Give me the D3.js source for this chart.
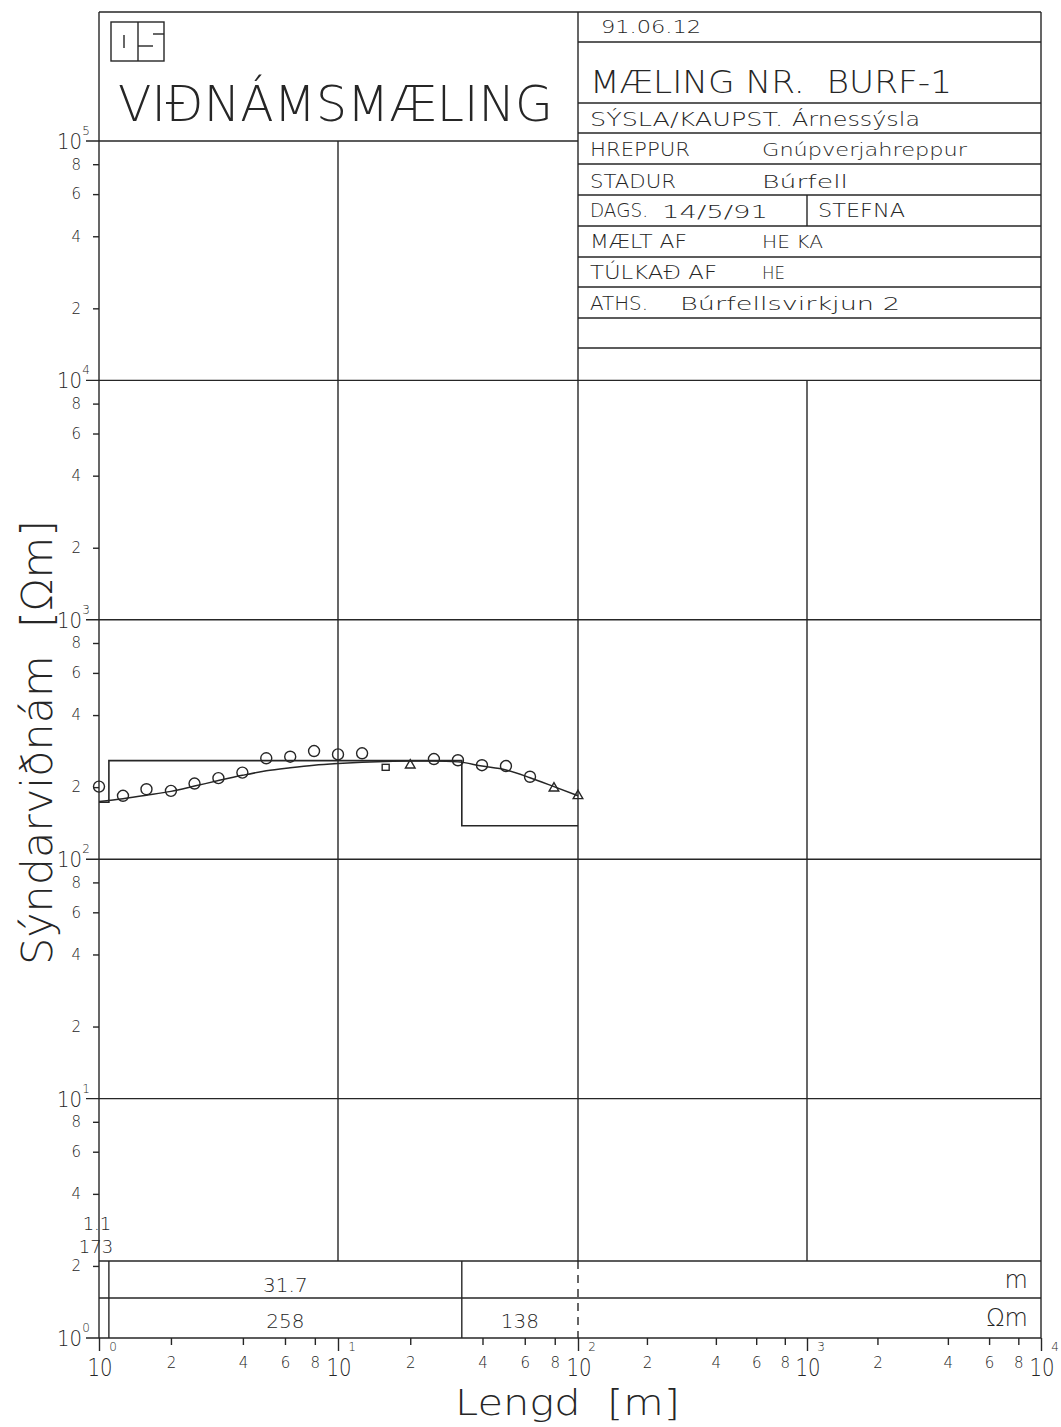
<!DOCTYPE html>
<html>
<head>
<meta charset="utf-8">
<script src="https://cdn.jsdelivr.net/npm/d3@7"></script>
<style>
  body { margin: 0; background: #fff; }
  svg text { font-family: 'DejaVu Sans', sans-serif; font-weight: 200; fill: #262626; white-space: pre; }
</style>
</head>
<body>
<div id="graf"></div>
<script>
// Mæligögn: AB/2 [m] og sýndarviðnám [Ωm]
const lengd  = [1, 1.26, 1.58, 2, 2.51, 3.16, 3.98, 5.01, 6.31, 7.94, 10, 12.6, 15.8, 20, 25.1, 31.6, 39.8, 50.1, 63.1, 79.4, 100]
const vidnam = [201, 184, 196, 193, 207, 218, 230, 264, 268, 283, 274, 277, 242, 247, 262, 259, 247, 245, 221, 198, 184]
const takn   = ['o', 'o', 'o', 'o', 'o', 'o', 'o', 'o', 'o', 'o', 'o', 'o', 's', 't', 'o', 'o', 'o', 'o', 'o', 't', 't']

// Reiknaður ferill líkans
const ferillLengd  = [1, 1.26, 1.58, 2, 2.51, 3.16, 3.98, 5.01, 6.31, 7.94, 10, 12.6, 15.8, 20, 25.1, 31.6, 39.8, 50.1, 63.1, 79.4, 100]
const ferillVidnam = [174, 179, 185, 192, 202, 213, 224, 234, 241, 247, 251, 254, 256, 257, 257, 255, 245, 236, 219, 201, 184]

// Líkan: þykkt laga [m] og viðnám laga [Ωm]
const thykkt     = [1.1, 31.7]
const vidnamLaga = [173, 258, 138]

// Ásar
const xAratugir  = [1, 10, 100, 1000, 10000]
const yAratugir  = [1, 10, 100, 1000, 10000, 100000]
const margfeldi  = [2, 4, 6, 8]
const xVeldi     = ['0', '1', '2', '3', '4']
const yVeldi     = ['0', '1', '2', '3', '4', '5']

/***** SVG *****/
const W = 1061, H = 1427
svg = d3.select('#graf').append('svg').attr('width', W).attr('height', H)

// kvarðar (skannaða blaðið er ekki alveg jafnt á x)
x = d3.scaleLog().domain(xAratugir).range([99, 338, 578, 807, 1041])
y = d3.scaleLog().domain([1, 100000]).range([1338, 141])

const topp = 12
const toflu = 1261, toflu2 = 1298
const litur = '#262626'

gLinur = svg.append('g').attr('stroke', litur).attr('stroke-width', 1.4).attr('fill', 'none')
function lina(x1, y1, x2, y2, strik) {
  let l = gLinur.append('line').attr('x1', x1).attr('y1', y1).attr('x2', x2).attr('y2', y2)
  if (strik) l.attr('stroke-dasharray', strik)
  return l
}
function texti(t, px, py, size, anchor, len) {
  let e = svg.append('text').attr('x', px).attr('y', py).attr('font-size', size)
    .attr('text-anchor', anchor || 'start').text(t)
  if (len) e.attr('textLength', len).attr('lengthAdjust', 'spacingAndGlyphs')
  return e
}

/***** Rammi og net *****/
lina(x(1), topp, x(10000), topp)
lina(x(1), topp, x(1), y(1))
lina(x(10000), topp, x(10000), y(1))
yAratugir.forEach(d => {
  lina(x(1) - 13, y(d), d === 100000 ? x(100) : x(10000), y(d))
})
lina(x(10), y(100000), x(10), toflu)
lina(x(100), topp, x(100), toflu)
lina(x(100), toflu, x(100), y(1), '8,6')
lina(x(1000), y(10000), x(1000), toflu)

// upplýsingatafla
const raðir = [42, 103, 133, 164, 195, 226, 257, 287, 318, 348]
raðir.forEach(r => lina(x(100), r, x(10000), r))
lina(x(1000), 195, x(1000), 226)

// tafla neðst
lina(x(1), toflu, x(10000), toflu)
lina(x(1), toflu2, x(10000), toflu2)

/***** Ásar *****/
xMinni = xAratugir.slice(0, -1).flatMap(d => margfeldi.map(m => d * m))
yMinni = yAratugir.slice(0, -1).flatMap(d => margfeldi.map(m => d * m))
fyrstiStafur = d => String(Math.round(d / Math.pow(10, Math.floor(Math.log10(d) + 1e-9))))

xAxisGroup = svg.append('g').attr('transform', `translate(0, ${ y(1) })`)
xAxisGroup.call(d3.axisBottom(x).tickValues(xMinni).tickSize(7).tickPadding(12).tickFormat(fyrstiStafur))
xAxisGroupMaj = svg.append('g').attr('transform', `translate(0, ${ y(1) })`)
xAxisGroupMaj.call(d3.axisBottom(x).tickValues(xAratugir).tickSize(13).tickFormat(''))

yAxisGroup = svg.append('g').attr('transform', `translate(${ x(1) }, 0)`)
yAxisGroup.call(d3.axisLeft(y).tickValues(yMinni).tickSize(6).tickPadding(12).tickFormat(fyrstiStafur))

svg.selectAll('.domain').remove()
svg.selectAll('.tick line').attr('stroke', litur).attr('stroke-width', 1.4)
svg.selectAll('.tick text').attr('fill', litur).attr('font-size', 15)
  .attr('font-family', 'DejaVu Sans').attr('font-weight', 200)

// tugaveldi á ásum
xAratugir.forEach((d, i) => {
  texti('10', x(d) + 1, 1376, 24, 'middle', 25)
  texti(xVeldi[i], x(d) + 14, 1351, 12, 'middle')
})
yAratugir.forEach((d, i) => {
  texti('10', 82, y(d) + 8, 22, 'end', 25)
  texti(yVeldi[i], 86, y(d) - 6, 12, 'middle')
})

/***** Líkan (þrepaferill) *****/
dypi = [0]
thykkt.forEach(t => dypi.push(+(dypi[dypi.length - 1] + t).toFixed(2)))
lag = vidnamLaga.map((r, i) => ({ d: Math.max(1, dypi[i]), r: r }))
lag.push({ d: 100, r: vidnamLaga[vidnamLaga.length - 1] })

svg.append('path').datum(lag)
  .attr('fill', 'none').attr('stroke', litur).attr('stroke-width', 1.6)
  .attr('d', d3.line().curve(d3.curveStepAfter).x(d => x(d.d)).y(d => y(d.r)))

// lagaskil í töflu
dypi.slice(1).forEach(d => lina(x(d), toflu, x(d), y(1)))

/***** Reiknaður ferill *****/
svg.append('path').datum(ferillLengd.map((d, i) => [d, ferillVidnam[i]]))
  .attr('fill', 'none').attr('stroke', litur).attr('stroke-width', 1.5)
  .attr('d', d3.line().curve(d3.curveMonotoneX).x(d => x(d[0])).y(d => y(d[1])))

/***** Mælipunktar *****/
gPunktar = svg.append('g').attr('fill', 'none').attr('stroke', litur).attr('stroke-width', 1.4)
lengd.forEach((d, i) => {
  let px = x(d), py = y(vidnam[i])
  if (takn[i] === 'o') {
    gPunktar.append('circle').attr('cx', px).attr('cy', py).attr('r', 5.5)
  } else if (takn[i] === 's') {
    gPunktar.append('rect').attr('x', px - 3.5).attr('y', py - 3).attr('width', 7).attr('height', 6)
  } else {
    gPunktar.append('path').attr('d', d3.symbol(d3.symbolTriangle, 40)()).attr('transform', `translate(${px},${py})`)
  }
})

/***** Texti: tafla neðst *****/
texti(String(thykkt[0]), 97, 1230, 18, 'middle')
texti(String(vidnamLaga[0]), 96, 1253, 18, 'middle')
texti(String(thykkt[1]), (x(dypi[1]) + x(dypi[2])) / 2, 1292, 20, 'middle')
texti(String(vidnamLaga[1]), (x(dypi[1]) + x(dypi[2])) / 2, 1328, 20, 'middle')
texti(String(vidnamLaga[2]), (x(dypi[2]) + x(100)) / 2, 1328, 20, 'middle')
texti('m', 1028, 1288, 24, 'end')
texti('Ωm', 1028, 1326, 24, 'end')

/***** Titill *****/
gLinur.append('rect').attr('x', 111).attr('y', 22).attr('width', 53).attr('height', 39)
lina(138, 22, 138, 61)
lina(124, 35, 124, 48)
lina(138, 46, 153, 46)
lina(153, 34, 164, 34)
texti('VIÐNÁMSMÆLING', 118, 121, 50, 'start', 435)

texti('91.06.12', 601, 33, 18, 'start', 100)
texti('MÆLING NR.  BURF-1', 590, 93, 32, 'start', 362)
texti('SÝSLA/KAUPST.', 590, 126, 20, 'start', 193)
texti('Árnessýsla', 792, 126, 19, 'start', 128)
texti('HREPPUR', 590, 156, 20, 'start', 100)
texti('Gnúpverjahreppur', 762, 156, 17, 'start', 205)
texti('STADUR', 590, 188, 20, 'start', 86)
texti('Búrfell', 762, 188, 17, 'start', 86)
texti('DAGS.', 590, 217, 20, 'start', 58)
texti('14/5/91', 662, 218, 17, 'start', 106)
texti('STEFNA', 818, 217, 20, 'start', 87)
texti('MÆLT AF', 590, 248, 20, 'start', 97)
texti('HE KA', 762, 248, 17, 'start', 61)
texti('TÚLKAÐ AF', 590, 279, 20, 'start', 127)
texti('HE', 762, 279, 17, 'start', 23)
texti('ATHS.', 590, 310, 20, 'start', 58)
texti('Búrfellsvirkjun 2', 680, 310, 17, 'start', 220)

/***** Ásaheiti *****/
texti('Lengd  [m]', 455, 1415, 36, 'start', 225)
svg.append('text').attr('transform', 'translate(52, 965) rotate(-90)')
  .attr('font-size', 42).attr('textLength', 445).attr('lengthAdjust', 'spacingAndGlyphs')
  .text('Sýndarviðnám  [Ωm]')
</script>
</body>
</html>
